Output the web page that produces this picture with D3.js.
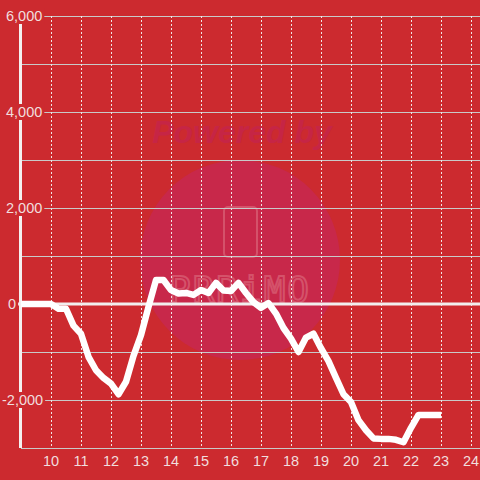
<!DOCTYPE html>
<html>
<head>
<meta charset="utf-8">
<script src="https://cdn.jsdelivr.net/npm/d3@7"></script>
<style>
  html, body { margin: 0; padding: 0; background: #cc2a2f; }
  svg { display: block; font-family: "Liberation Sans", Arial, sans-serif; }
</style>
</head>
<body>
<svg id="chart" width="480" height="480"></svg>
<script>
// readings, every quarter hour
var times = [
  "09:00", "09:15", "09:30", "09:45", "10:00", "10:15", "10:30", "10:45",
  "11:00", "11:15", "11:30", "11:45", "12:00", "12:15", "12:30", "12:45",
  "13:00", "13:15", "13:30", "13:45", "14:00", "14:15", "14:30", "14:45",
  "15:00", "15:15", "15:30", "15:45", "16:00", "16:15", "16:30", "16:45",
  "17:00", "17:15", "17:30", "17:45", "18:00", "18:15", "18:30", "18:45",
  "19:00", "19:15", "19:30", "19:45", "20:00", "20:15", "20:30", "20:45",
  "21:00", "21:15", "21:30", "21:45", "22:00", "22:15", "22:30", "22:45",
  "23:00"
];
var values = [
  0, 0, 0, 0, 0, -100, -100, -450,
  -620, -1100, -1380, -1540, -1660, -1880, -1620, -1080,
  -650, -60, 500, 500, 290, 220, 230, 190,
  290, 230, 440, 280, 270, 440, 230, 40,
  -80, 20, -200, -500, -720, -1000, -700, -620,
  -920, -1190, -1540, -1880, -2040, -2420, -2630, -2800,
  -2810, -2810, -2830, -2880, -2580, -2310, -2310, -2310,
  -2310
];
var xTicks = [10, 11, 12, 13, 14, 15, 16, 17, 18, 19, 20, 21, 22, 23, 24];
var yGrid = [-3000, -2000, -1000, 0, 1000, 2000, 3000, 4000, 5000, 6000];
var yLabels = [6000, 4000, 2000, 0, -2000];

var width = 480, height = 480;
var margin = { top: 16, right: 0, bottom: 32, left: 21 };
var bg = "#cc2a2f";

var data = times.map(function (t, i) {
  var p = t.split(":");
  return { t: +p[0] + (+p[1]) / 60, v: values[i] };
});

var svg = d3.select("#chart");

var x = d3.scaleLinear().domain([9, 24.3]).range([margin.left, width - margin.right]);
var y = d3.scaleLinear().domain([-3000, 6000]).range([height - margin.bottom, margin.top]);

svg.append("rect").attr("width", width).attr("height", height).attr("fill", bg);

// watermark
var wm = svg.append("g");
wm.append("circle").attr("cx", 240).attr("cy", 260).attr("r", 100).attr("fill", "#c8284a");
wm.append("text")
  .attr("x", 242).attr("y", 143)
  .attr("text-anchor", "middle")
  .attr("font-size", 32).attr("font-weight", "bold").attr("font-style", "italic")
  .attr("fill", "#c62545")
  .text("Powered by");
wm.append("rect")
  .attr("x", 224).attr("y", 207).attr("width", 33).attr("height", 50).attr("rx", 4)
  .attr("fill", "none").attr("stroke", "#d4526a").attr("stroke-width", 2);
wm.append("text")
  .attr("x", 240).attr("y", 302)
  .attr("text-anchor", "middle")
  .attr("font-size", 36).attr("letter-spacing", 2)
  .attr("font-family", "DejaVu Sans Mono")
  .attr("fill", "none").attr("stroke", "#d4526a").attr("stroke-width", 2)
  .text("PRRiMO");

// horizontal grid
svg.append("g")
  .selectAll("line")
  .data(yGrid)
  .join("line")
  .attr("x1", margin.left).attr("x2", width - margin.right)
  .attr("y1", function (d) { return y(d) + 0.5; })
  .attr("y2", function (d) { return y(d) + 0.5; })
  .attr("stroke", "#c9c9c9").attr("stroke-width", 1);

// vertical dashed grid
svg.append("g")
  .selectAll("line")
  .data(xTicks)
  .join("line")
  .attr("x1", function (d) { return Math.round(x(d)) + 0.5; })
  .attr("x2", function (d) { return Math.round(x(d)) + 0.5; })
  .attr("y1", margin.top).attr("y2", height - margin.bottom)
  .attr("stroke", "#f0e6e6").attr("stroke-width", 1)
  .attr("stroke-dasharray", "2,2");

// zero line
svg.append("line")
  .attr("x1", margin.left - 4).attr("x2", width - margin.right)
  .attr("y1", y(0)).attr("y2", y(0))
  .attr("stroke", "#f2eeee").attr("stroke-width", 3);

// y axis line
svg.append("line")
  .attr("x1", margin.left - 0.5).attr("x2", margin.left - 0.5)
  .attr("y1", margin.top).attr("y2", height - margin.bottom)
  .attr("stroke", "#f4f0f0").attr("stroke-width", 3);

// series
var line = d3.line()
  .x(function (d) { return x(d.t); })
  .y(function (d) { return y(d.v); });

svg.append("path")
  .datum(data)
  .attr("d", line)
  .attr("fill", "none")
  .attr("stroke", "#ffffff")
  .attr("stroke-width", 6.5)
  .attr("stroke-linejoin", "round");

// y labels with background boxes
var yl = svg.append("g")
  .selectAll("g")
  .data(yLabels)
  .join("g")
  .attr("transform", function (d) { return "translate(" + (d < 0 ? 2 : d === 0 ? 8 : 6) + "," + y(d) + ")"; });

var yText = yl.append("text")
  .attr("y", 5)
  .attr("font-size", 14.5)
  .attr("fill", "#f1dede")
  .text(function (d) { return d3.format(",")(d).replace("−", "-"); });

yText.each(function () {
  var b = this.getBBox();
  d3.select(this.parentNode).insert("rect", "text")
    .attr("x", b.x - 2).attr("y", -8)
    .attr("width", b.width + 4).attr("height", 16)
    .attr("fill", bg);
});

// x labels
svg.append("g")
  .selectAll("text")
  .data(xTicks)
  .join("text")
  .attr("x", function (d) { return x(d); })
  .attr("y", 466)
  .attr("text-anchor", "middle")
  .attr("font-size", 14.5)
  .attr("fill", "#f1dede")
  .text(function (d) { return d; });
</script>
</body>
</html>
